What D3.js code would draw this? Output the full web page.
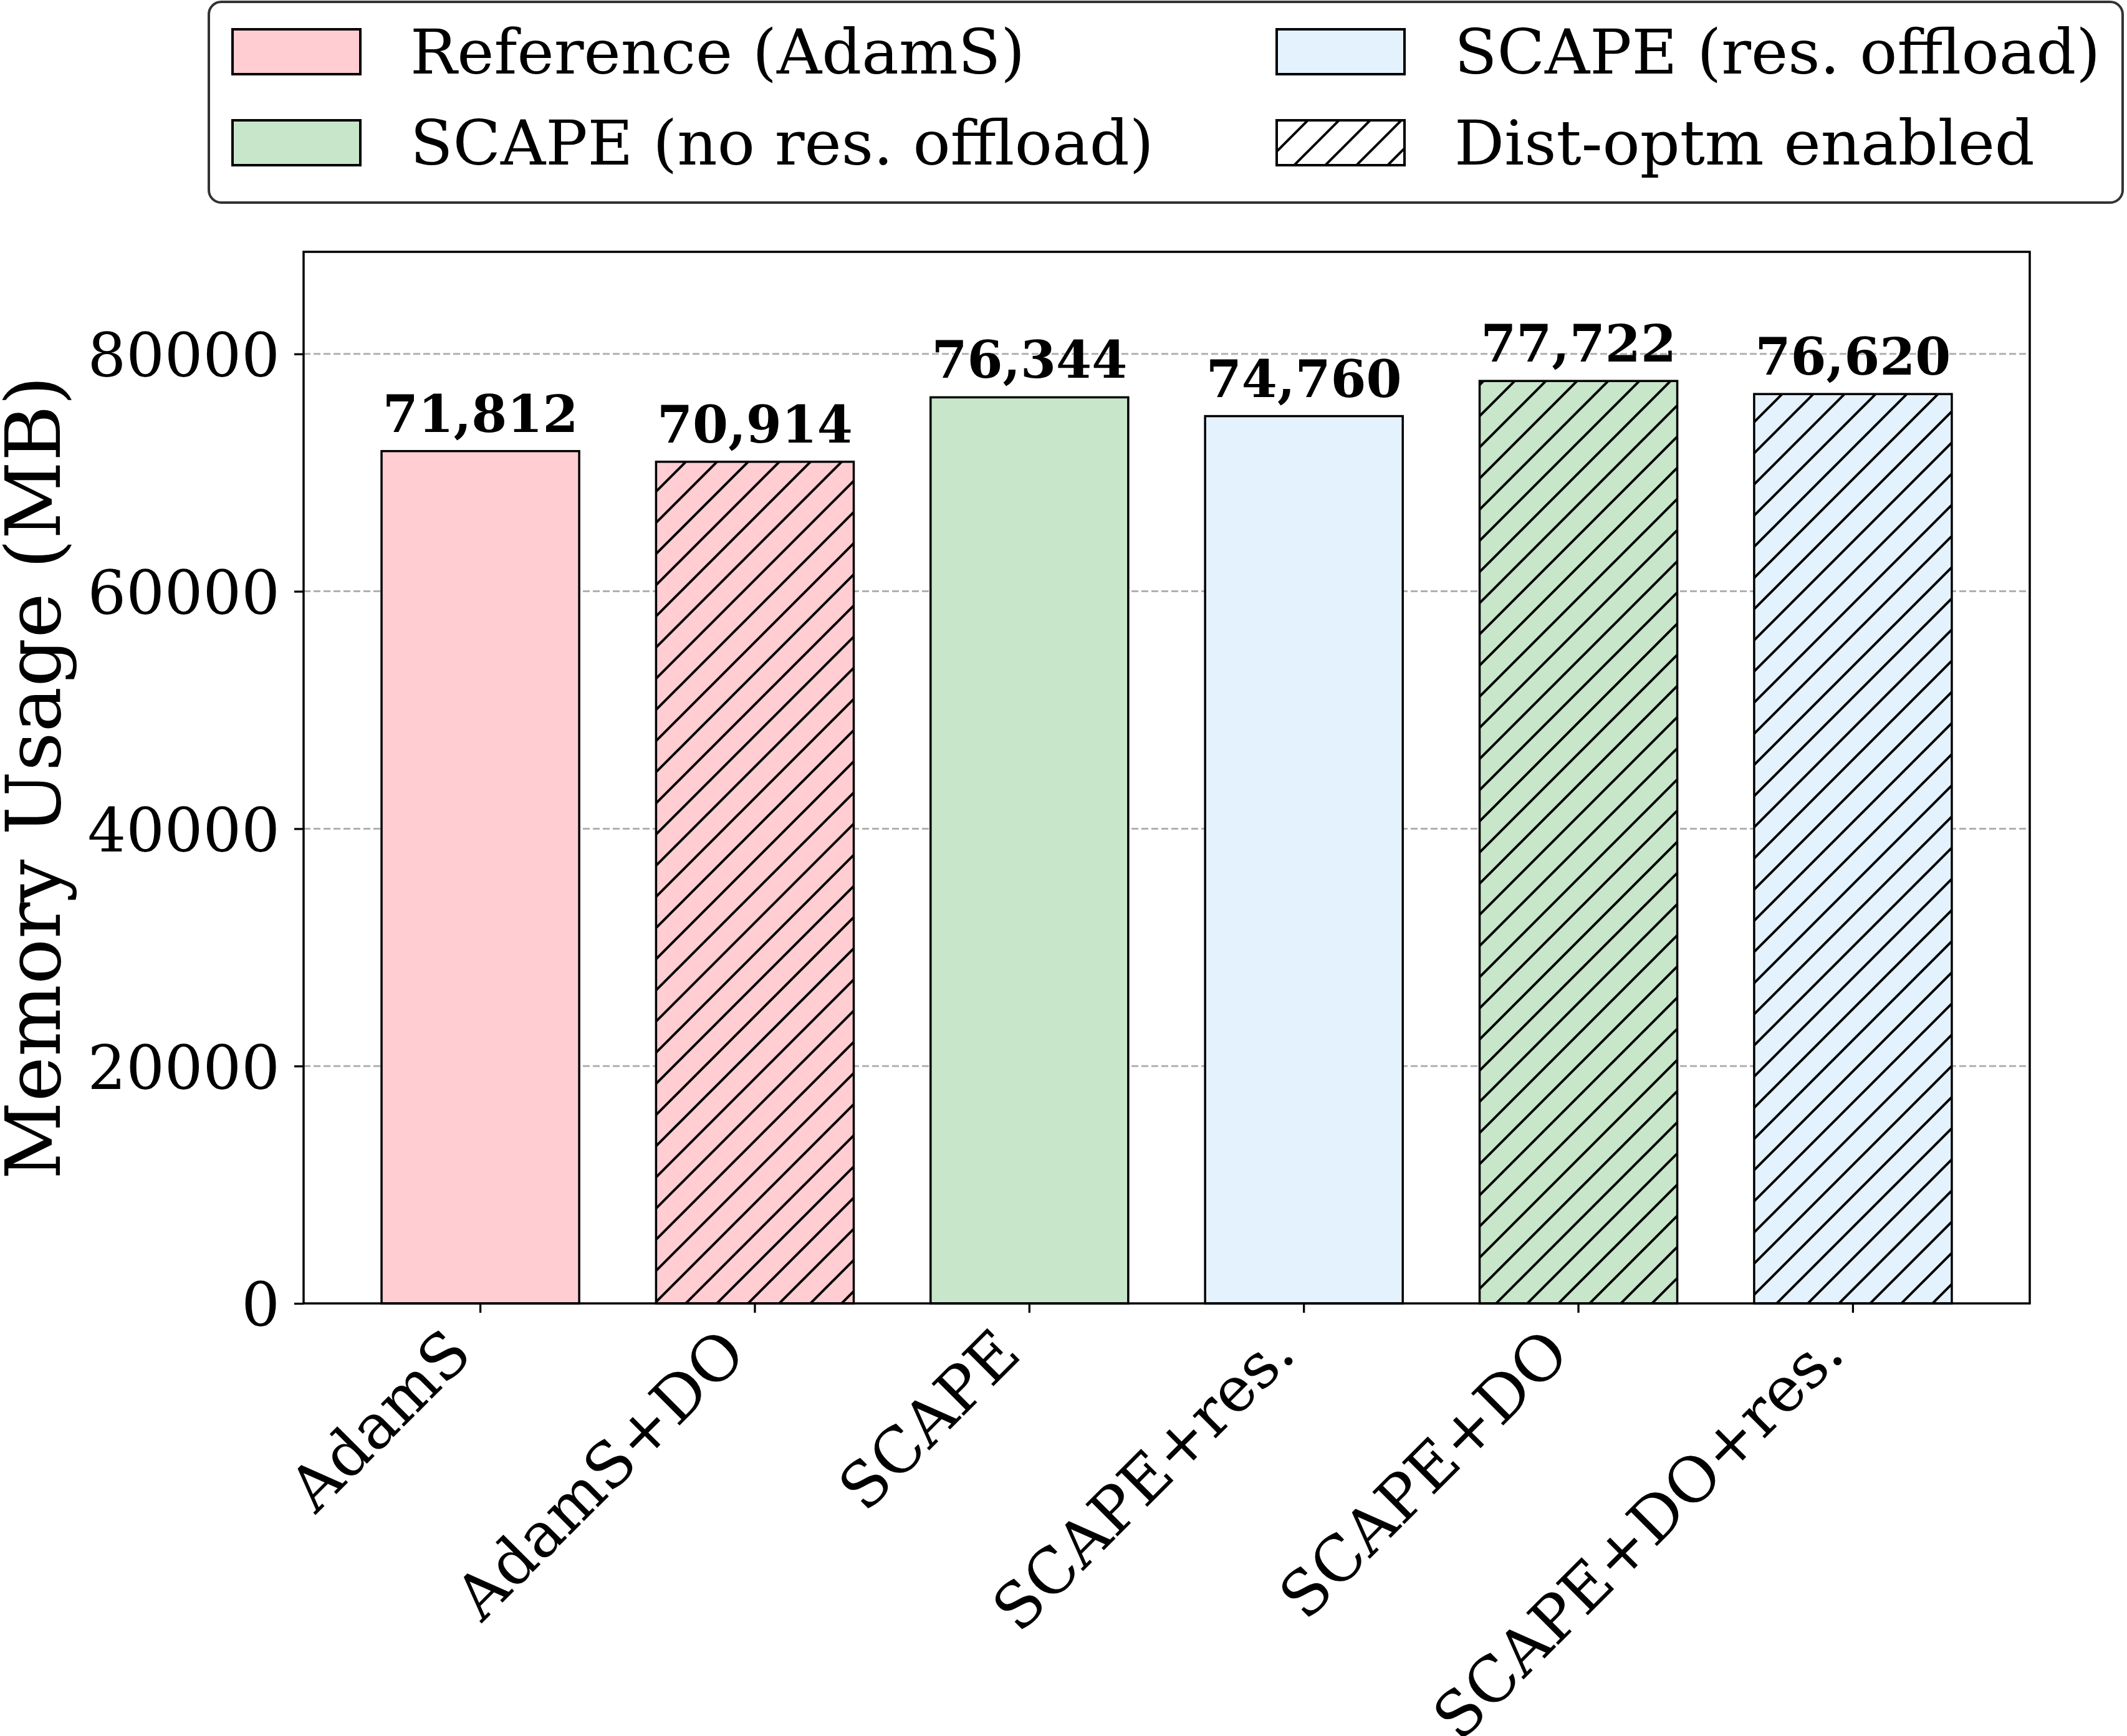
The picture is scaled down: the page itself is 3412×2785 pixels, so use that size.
<!DOCTYPE html>
<html>
<head>
<meta charset="utf-8">
<script src="https://cdn.jsdelivr.net/npm/d3@7"></script>
<style>
  body { margin: 0; background: #fff; }
  svg { display: block; }
</style>
</head>
<body>
<svg class="Chart"></svg>
<script>
// chart values
var categories = ["AdamS", "AdamS+DO", "SCAPE", "SCAPE+res.", "SCAPE+DO", "SCAPE+DO+res."];
var memory = [71812, 70914, 76344, 74760, 77722, 76620];
var barGroup = ["ref", "ref", "noRes", "res", "noRes", "res"];
var barHatched = [false, true, false, false, true, true];
var yTicks = [0, 20000, 40000, 60000, 80000];

var legendLabels = ["Reference (AdamS)", "SCAPE (no res. offload)", "SCAPE (res. offload)", "Dist-optm enabled"];
var legendKeys = ["ref", "noRes", "res", "hatch"];

var groupColor = {ref: "#FFCDD2", noRes: "#C8E6C9", res: "#E3F2FD"};

var width = 3412, height = 2785;
var margin = {top: 404, right: 156, bottom: 694, left: 487};
var serif = "'DejaVu Serif', serif";

var svg = d3.select(".Chart")
    .attr("width", width)
    .attr("height", height)
    .style("background", "#fff");

// hatch pattern, like matplotlib '/'
var defs = svg.append("defs");
defs.append("pattern")
    .attr("id", "hatch")
    .attr("patternUnits", "userSpaceOnUse")
    .attr("width", 50)
    .attr("height", 50)
    .append("path")
    .attr("d", "M-25,25 L25,-25 M0,50 L50,0 M25,75 L75,25")
    .attr("stroke", "#000")
    .attr("stroke-width", 4);

var plotW = width - margin.left - margin.right,
    plotH = height - margin.top - margin.bottom;

var g = svg.append("g")
    .attr("transform", "translate(" + margin.left + "," + margin.top + ")");

var x = d3.scaleBand()
    .domain(categories)
    .range([0, plotW])
    .paddingInner(0.28)
    .paddingOuter(0.284);

var y = d3.scaleLinear()
    .domain([0, d3.max(memory) * 1.14])
    .range([plotH, 0]);

// grid
g.append("g")
    .selectAll("line")
    .data(yTicks.slice(1))
    .join("line")
    .attr("x1", 0)
    .attr("x2", plotW)
    .attr("y1", d => y(d))
    .attr("y2", d => y(d))
    .attr("stroke", "#b0b0b0")
    .attr("stroke-width", 3)
    .attr("stroke-dasharray", "11,5");

// bars
var bars = g.append("g")
    .selectAll("g")
    .data(memory)
    .join("g");

bars.append("rect")
    .attr("x", (d, i) => x(categories[i]))
    .attr("y", d => y(d))
    .attr("width", x.bandwidth())
    .attr("height", d => plotH - y(d))
    .attr("fill", (d, i) => groupColor[barGroup[i]]);

bars.filter((d, i) => barHatched[i])
    .append("rect")
    .attr("x", d => x(categories[memory.indexOf(d)]))
    .attr("y", d => y(d))
    .attr("width", x.bandwidth())
    .attr("height", d => plotH - y(d))
    .attr("fill", "url(#hatch)");

bars.append("rect")
    .attr("x", (d, i) => x(categories[i]))
    .attr("y", d => y(d))
    .attr("width", x.bandwidth())
    .attr("height", d => plotH - y(d))
    .attr("fill", "none")
    .attr("stroke", "#000")
    .attr("stroke-width", 3.5);

// value labels
g.append("g")
    .selectAll("text")
    .data(memory)
    .join("text")
    .attr("x", (d, i) => x(categories[i]) + x.bandwidth() / 2)
    .attr("y", d => y(d) - 31)
    .attr("text-anchor", "middle")
    .style("font-family", serif)
    .style("font-weight", "bold")
    .style("font-size", "82px")
    .text(d => d3.format(",")(d));

// axes
var yAxis = g.append("g")
    .call(d3.axisLeft(y).tickValues(yTicks).tickFormat(d3.format("d")).tickSize(15).tickPadding(23));
yAxis.select(".domain").remove();
yAxis.selectAll("line").attr("stroke-width", 3.3);
yAxis.selectAll("text")
    .attr("dy", "0.37em")
    .style("font-family", serif)
    .style("font-size", "97px");

var xAxis = g.append("g")
    .attr("transform", "translate(0," + plotH + ")")
    .call(d3.axisBottom(x).tickSize(15).tickSizeOuter(0));
xAxis.select(".domain").remove();
xAxis.selectAll("line").attr("stroke-width", 3.3);
xAxis.selectAll("text")
    .attr("x", 0)
    .attr("y", 0)
    .attr("dy", 0)
    .attr("text-anchor", "end")
    .attr("transform", "translate(-10,85) rotate(-45)")
    .style("font-family", serif)
    .style("font-size", "100px");

// frame
g.append("rect")
    .attr("width", plotW)
    .attr("height", plotH)
    .attr("fill", "none")
    .attr("stroke", "#000")
    .attr("stroke-width", 3.5);

// y label
svg.append("text")
    .attr("transform", "translate(96," + (margin.top + plotH / 2) + ") rotate(-90)")
    .attr("text-anchor", "middle")
    .style("font-family", serif)
    .style("font-size", "122px")
    .text("Memory Usage (MB)");

// legend
var legend = svg.append("g");
legend.append("rect")
    .attr("x", 335)
    .attr("y", 3)
    .attr("width", 3070)
    .attr("height", 322)
    .attr("rx", 20)
    .attr("fill", "#fff")
    .attr("stroke", "#333")
    .attr("stroke-width", 4);

var legendCol = [373, 2048], legendRow = [47, 193];
var item = legend.selectAll("g.item")
    .data(legendLabels)
    .join("g")
    .attr("class", "item")
    .attr("transform", (d, i) => "translate(" + legendCol[Math.floor(i / 2)] + "," + legendRow[i % 2] + ")");

item.append("rect")
    .attr("width", 205)
    .attr("height", 72)
    .attr("fill", (d, i) => legendKeys[i] === "hatch" ? "#fff" : groupColor[legendKeys[i]]);
item.filter((d, i) => legendKeys[i] === "hatch")
    .append("rect")
    .attr("width", 205)
    .attr("height", 72)
    .attr("fill", "url(#hatch)");
item.append("rect")
    .attr("width", 205)
    .attr("height", 72)
    .attr("fill", "none")
    .attr("stroke", "#000")
    .attr("stroke-width", 4);
item.append("text")
    .attr("x", 285)
    .attr("y", 71)
    .style("font-family", serif)
    .style("font-size", "100px")
    .text(d => d);
</script>
</body>
</html>
